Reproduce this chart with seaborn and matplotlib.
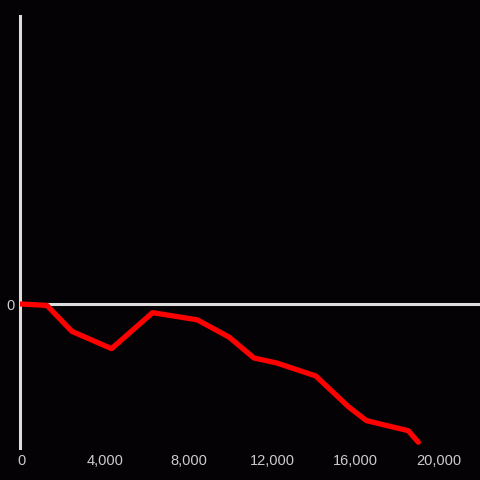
import pandas as pd
import matplotlib.pyplot as plt
import seaborn as sns

# data
x_vals = [0, 1240, 2430, 4330, 6290, 8430, 9950, 11140, 12240, 14100, 15670, 16520, 18520, 19000]
y_vals = [0.0, -0.01, -0.19, -0.31, -0.06, -0.11, -0.23, -0.375, -0.41, -0.5, -0.715, -0.81, -0.88, -0.96]
x_ticks = [0, 4000, 8000, 12000, 16000, 20000]

df = pd.DataFrame({"x": x_vals, "y": y_vals})

sns.set_style("dark")
plt.rcParams["font.family"] = ["Liberation Sans", "DejaVu Sans"]

bg = "#040205"
fig = plt.figure(figsize=(4.8, 4.8), dpi=100, facecolor=bg)
ax = fig.add_axes([20 / 480, 32 / 480, 460 / 480, 432 / 480])
ax.set_facecolor(bg)

ax.axhline(0, color="#dddddd", lw=2.2, zorder=1)
sns.lineplot(data=df, x="x", y="y", color="#ff0000", lw=3.8, ax=ax, zorder=3)

ax.set_xlim(-50, 21950)
ax.set_ylim(-1, 2)
ax.set_xticks(x_ticks)
ax.set_xticklabels([f"{v:,}" for v in x_ticks])
ax.set_yticks([0])
ax.set_yticklabels(["0"])
ax.tick_params(colors="#cccccc", labelsize=10.5, length=0, pad=4)
ax.grid(False)
ax.set_xlabel("")
ax.set_ylabel("")

for s in ["top", "right", "bottom"]:
    ax.spines[s].set_visible(False)
ax.spines["left"].set_color("#dddddd")
ax.spines["left"].set_linewidth(2.2)

fig.savefig("out.png", dpi=100, facecolor=bg)
